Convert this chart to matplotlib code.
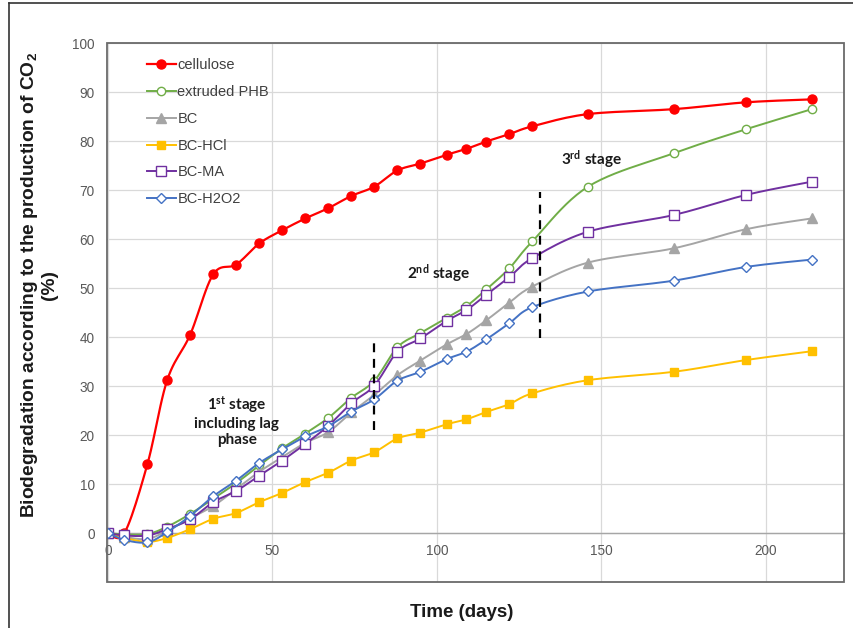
import numpy as np
import matplotlib.pyplot as plt
from matplotlib.lines import Line2D
from matplotlib.patches import Rectangle

# sampling days (same for every series)
days = [0, 5, 12, 18, 25, 32, 39, 46, 53, 60, 67, 74, 81, 88, 95, 103, 109, 115, 122, 129, 146, 172, 194, 214]

cellulose = [0, 0, 14.1, 31.2, 40.5, 52.8, 54.8, 59.1, 61.8, 64.2, 66.3, 68.8, 70.7, 74.0, 75.4, 77.2,
             78.4, 79.9, 81.4, 83.0, 85.5, 86.5, 87.9, 88.5]
phb = [0, -0.3, -0.2, 1.3, 3.9, 7.0, 10.2, 13.8, 17.3, 20.3, 23.5, 27.6, 31.1, 37.9, 40.8, 43.9,
       46.3, 49.7, 54.0, 59.5, 70.7, 77.5, 82.4, 86.5]
bc = [0, -0.8, -1.2, 0.5, 3.0, 5.5, 9.0, 12.5, 15.5, 18.4, 20.6, 24.6, 28.2, 32.2, 35.2, 38.5,
      40.6, 43.4, 47.0, 50.3, 55.2, 58.1, 62.0, 64.2]
bc_hcl = [0, -1.0, -1.8, -1.0, 0.8, 2.9, 4.1, 6.3, 8.2, 10.4, 12.3, 14.8, 16.5, 19.3, 20.5, 22.2,
          23.2, 24.7, 26.3, 28.5, 31.2, 32.9, 35.3, 37.1]
bc_ma = [0, -0.5, -0.5, 0.8, 2.8, 6.3, 8.6, 11.7, 14.8, 18.2, 21.9, 26.5, 30.1, 37.0, 39.7, 43.3,
         45.5, 48.6, 52.2, 56.1, 61.5, 64.9, 69.0, 71.7]
bc_h2o2 = [0, -1.4, -1.9, 0.2, 3.5, 7.5, 10.7, 14.3, 17.1, 19.7, 21.8, 24.8, 27.3, 31.1, 32.9, 35.5,
           37.0, 39.5, 42.8, 46.1, 49.3, 51.5, 54.3, 55.8]

# stage boundaries (day, y from, y to)
stage_lines = [(81, 21, 40), (131.5, 39.7, 69.5)]

FONT = ['Liberation Sans', 'DejaVu Sans']
plt.rcParams['font.family'] = FONT

STEPS = 12


def smooth(ax, x, y, steps=STEPS):
    # excel-like smoothed line (catmull-rom in screen space)
    pts = ax.transData.transform(np.column_stack([x, y]))
    p = np.vstack([pts[0], pts, pts[-1]])
    out = []
    t = np.linspace(0, 1, steps, endpoint=False)[:, None]
    for i in range(1, len(p) - 2):
        p0, p1, p2, p3 = p[i - 1], p[i], p[i + 1], p[i + 2]
        seg = 0.5 * (2 * p1 + (-p0 + p2) * t + (2 * p0 - 5 * p1 + 4 * p2 - p3) * t ** 2
                     + (-p0 + 3 * p1 - 3 * p2 + p3) * t ** 3)
        out.append(seg)
    out.append(pts[-1][None, :])
    out = ax.transData.inverted().transform(np.vstack(out))
    return out[:, 0], out[:, 1]


fig = plt.figure(figsize=(8.54, 6.28), dpi=100)
ax = fig.add_axes([0.1253, 0.0732, 0.8630, 0.8583])
ax.set_xlim(-0.3, 223.8)
ax.set_ylim(-10, 100)

series = [
    ('cellulose', cellulose, dict(color='#ff0000', marker='o', ms=6.5, mfc='#ff0000', lw=1.6)),
    ('extruded PHB', phb, dict(color='#70ad47', marker='o', ms=6, mfc='white', lw=1.4)),
    ('BC', bc, dict(color='#a5a5a5', marker='^', ms=6.5, mfc='#a5a5a5', lw=1.4)),
    ('BC-HCl', bc_hcl, dict(color='#ffc000', marker='s', ms=6, mfc='#ffc000', lw=1.4)),
    ('BC-MA', bc_ma, dict(color='#7030a0', marker='s', ms=7, mfc='white', lw=1.4)),
    ('BC-H2O2', bc_h2o2, dict(color='#4472c4', marker='D', ms=5.5, mfc='white', lw=1.4)),
]

for i, (name, vals, style) in enumerate(series):
    sx, sy = smooth(ax, days, vals)
    ax.plot(sx, sy, markevery=STEPS, mew=1.0, label=name, zorder=3 + i * 0.1, **style)

# stage separators
for xd, y0, y1 in stage_lines:
    ax.plot([xd, xd], [y0, y1], color='black', lw=1.6, ls=(0, (4, 3)), zorder=4)

ann_font = dict(family=['Lato', 'DejaVu Sans'], fontweight='bold', fontsize=11, color='#1a1a1a')
ax.text(39.2, 22.9, '1$\\mathregular{^{st}}$ stage\nincluding lag\nphase', ha='center', va='center',
        linespacing=1.2, **ann_font)
ax.text(100.4, 53.0, '2$\\mathregular{^{nd}}$ stage', ha='center', va='center', **ann_font)
ax.text(147.1, 76.3, '3$\\mathregular{^{rd}}$ stage', ha='center', va='center', **ann_font)

# axes styling, excel look
ax.set_xticks([0, 50, 100, 150, 200])
ax.set_yticks(range(0, 101, 10))
ax.grid(True, color='#d9d9d9', lw=0.9, zorder=0)
ax.set_axisbelow(True)
for s in ['top', 'right', 'left']:
    ax.spines[s].set_visible(False)
ax.spines['bottom'].set_position(('data', 0))
ax.spines['bottom'].set_color('#a6a6a6')
ax.spines['bottom'].set_linewidth(1.0)
ax.add_patch(Rectangle((0, 0), 1, 1, transform=ax.transAxes, fill=False, ec='#6a6a6a', lw=1.3,
                       clip_on=False, zorder=5))
ax.tick_params(axis='both', length=0, labelsize=9.8, labelcolor='#595959')
ax.tick_params(axis='x', pad=8)
ax.tick_params(axis='y', pad=9)

ax.set_ylabel('Biodegradation according to the production of CO$_\\mathregular{2}$\n(%)',
              fontsize=13.8, fontweight='bold', color='#1a1a1a', linespacing=1.1)
ax.yaxis.set_label_coords(-0.0665, 0.551)
ax.set_xlabel('Time (days)', fontsize=13.5, fontweight='bold', color='#1a1a1a')
ax.xaxis.set_label_coords(0.4817, -0.040)

ax.legend(loc='upper left', bbox_to_anchor=(0.054, 0.972), frameon=False, fontsize=10.5,
          handlelength=2.0, handletextpad=0.1, labelspacing=0.88, borderpad=0, borderaxespad=0,
          labelcolor='#404040')

# outer chart border
fig.add_artist(Line2D([9 / 854, 9 / 854], [0, 1 - 3 / 628], transform=fig.transFigure, color='#333333', lw=1.2))
fig.add_artist(Line2D([9 / 854, 1], [1 - 3 / 628, 1 - 3 / 628], transform=fig.transFigure, color='#333333', lw=1.2))

fig.savefig('out.png', dpi=100)
